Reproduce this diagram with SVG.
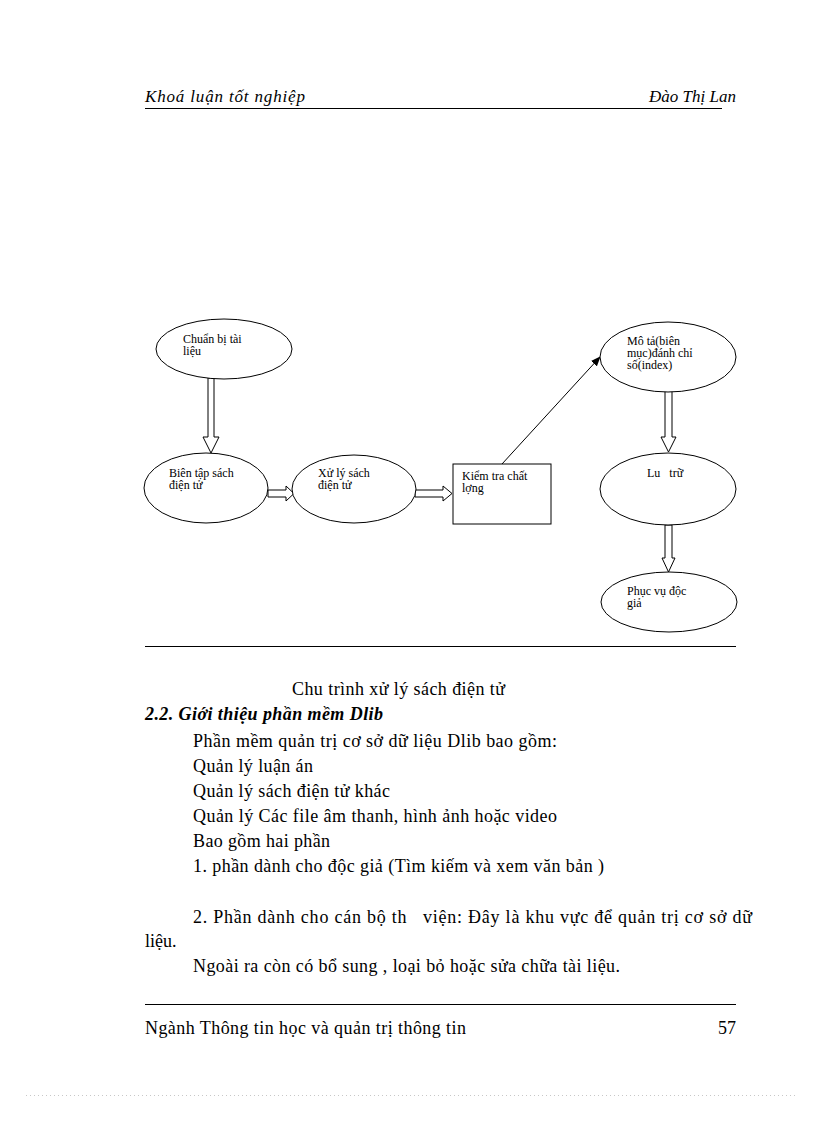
<svg xmlns="http://www.w3.org/2000/svg" width="816" height="1123" viewBox="0 0 816 1123">
<style>
.bg{fill:#ffffff}
.shape{fill:#ffffff;stroke:#000000;stroke-width:1}
.hollow{fill:#ffffff;stroke:#000000;stroke-width:1}
.rule{stroke:#000000;stroke-width:1}
.lbl{font-family:"Liberation Serif","Times New Roman",serif;font-size:12px;fill:#000000}
.body{font-family:"Liberation Serif","Times New Roman",serif;font-size:18px;fill:#000000}
.hdr{font-family:"Liberation Serif","Times New Roman",serif;font-size:17px;font-style:italic;fill:#000000}
.h2{font-family:"Liberation Serif","Times New Roman",serif;font-size:18px;font-style:italic;font-weight:bold;fill:#000000}
</style>
<defs>
<marker id="arrow" markerWidth="10" markerHeight="8" refX="9" refY="4" orient="auto" markerUnits="userSpaceOnUse">
<path d="M0,0 L10,4 L0,8 Z" fill="#000000"/>
</marker>
</defs>
<rect class="bg" x="0" y="0" width="816" height="1123"/>

<g id="header">
<text class="hdr" x="145" y="102" textLength="160" lengthAdjust="spacing">Khoá luận tốt nghiệp</text>
<text class="hdr" x="736" y="102" text-anchor="end">Đào Thị Lan</text>
<line class="rule" x1="145" y1="108.5" x2="722" y2="108.5"/>
</g>

<g id="connectors">
<polygon class="hollow" points="208,378 214,378 214,437 219,437 211,453 203,437 208,437"/>
<polygon class="hollow" points="268,490 286,490 286,486 294,493.5 286,501 286,497 268,497"/>
<polygon class="hollow" points="415,490 443,490 443,486 452,493.5 443,501 443,497 415,497"/>
<line x1="502" y1="464" x2="600" y2="357" stroke="#000000" stroke-width="1" marker-end="url(#arrow)"/>
<polygon class="hollow" points="665,391 672,391 672,437 676,437 668.5,452 661,437 665,437"/>
<polygon class="hollow" points="665,525 672,525 672,558 675,558 668.5,572 662,558 665,558"/>
</g>

<g id="node-chuan-bi">
<ellipse class="shape" cx="224" cy="349" rx="68" ry="30"/>
<text class="lbl" x="183" y="343">Chuẩn bị tài</text>
<text class="lbl" x="183" y="355">liệu</text>
</g>

<g id="node-bien-tap">
<ellipse class="shape" cx="206" cy="488" rx="62" ry="35"/>
<text class="lbl" x="169" y="477">Biên tập sách</text>
<text class="lbl" x="169" y="489">điện tử</text>
</g>

<g id="node-xu-ly">
<ellipse class="shape" cx="354" cy="489" rx="62" ry="34"/>
<text class="lbl" x="318" y="477">Xử lý sách</text>
<text class="lbl" x="318" y="489">điện tử</text>
</g>

<g id="node-kiem-tra">
<rect class="shape" x="453" y="464" width="98" height="60"/>
<text class="lbl" x="462" y="480">Kiểm tra chất</text>
<text class="lbl" x="462" y="492">lợng</text>
</g>

<g id="node-mo-ta">
<ellipse class="shape" cx="668" cy="357" rx="68" ry="35"/>
<text class="lbl" x="627" y="345">Mô tả(biên</text>
<text class="lbl" x="627" y="357">mục)đánh chỉ</text>
<text class="lbl" x="627" y="369">số(index)</text>
</g>

<g id="node-luu-tru">
<ellipse class="shape" cx="668" cy="489" rx="68" ry="36"/>
<text class="lbl" x="647" y="477" xml:space="preserve">Lu   trữ</text>
</g>

<g id="node-phuc-vu">
<ellipse class="shape" cx="669" cy="602" rx="68" ry="30"/>
<text class="lbl" x="627" y="595">Phục vụ độc</text>
<text class="lbl" x="627" y="607">giả</text>
</g>

<line class="rule" x1="145" y1="646.5" x2="736" y2="646.5"/>

<g id="body">
<text class="body" x="292" y="695" textLength="213" lengthAdjust="spacing">Chu trình xử lý sách điện tử</text>
<text class="h2" x="145" y="720" textLength="238" lengthAdjust="spacing">2.2. Giới thiệu phần mềm Dlib</text>
<text class="body" x="193" y="747" textLength="364" lengthAdjust="spacing">Phần mềm quản trị cơ sở dữ liệu Dlib bao gồm:</text>
<text class="body" x="193" y="772" textLength="120" lengthAdjust="spacing">Quản lý luận án</text>
<text class="body" x="193" y="797" textLength="197" lengthAdjust="spacing">Quản lý sách điện tử khác</text>
<text class="body" x="193" y="822" textLength="364" lengthAdjust="spacing">Quản lý Các file âm thanh, hình ảnh hoặc video</text>
<text class="body" x="193" y="847" textLength="137" lengthAdjust="spacing">Bao gồm hai phần</text>
<text class="body" x="193" y="872" textLength="411" lengthAdjust="spacing">1. phần dành cho độc giả (Tìm kiếm và xem văn bản )</text>
<text class="body" x="193" y="923" textLength="559" lengthAdjust="spacing" xml:space="preserve">2. Phần dành cho cán bộ th   viện: Đây là khu vực để quản trị cơ sở dữ</text>
<text class="body" x="145" y="947">liệu.</text>
<text class="body" x="193" y="972" textLength="427" lengthAdjust="spacing">Ngoài ra còn có bổ sung , loại bỏ hoặc sửa chữa tài liệu.</text>
</g>

<g id="footer">
<line class="rule" x1="145" y1="1004.5" x2="736" y2="1004.5"/>
<text class="body" x="145" y="1034" textLength="321" lengthAdjust="spacing">Ngành Thông tin học và quản trị thông tin</text>
<text class="body" x="736" y="1034" text-anchor="end">57</text>
<line x1="26" y1="1095.5" x2="796" y2="1095.5" stroke="#c8c8c8" stroke-width="1" stroke-dasharray="1,3"/>
</g>
</svg>
